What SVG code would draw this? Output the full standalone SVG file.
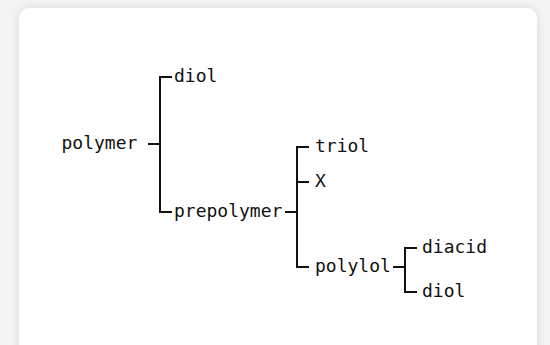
<svg xmlns="http://www.w3.org/2000/svg" width="550" height="345" viewBox="0 0 550 345">
<style>
.t{font-family:"DejaVu Sans Mono","Liberation Mono",monospace;font-size:18px;fill:#111}
.c{fill:none;stroke:#111;stroke-width:2;stroke-linecap:butt;stroke-linejoin:miter}
</style>
<defs>
<filter id="sh" x="-10%" y="-10%" width="120%" height="130%">
<feGaussianBlur in="SourceAlpha" stdDeviation="5"/>
<feComponentTransfer><feFuncA type="linear" slope="0.12"/></feComponentTransfer>
<feMerge><feMergeNode/><feMergeNode in="SourceGraphic"/></feMerge>
</filter>
</defs>
<rect x="0" y="0" width="550" height="345" fill="#f4f4f4"/>
<rect x="19" y="8" width="518" height="360" rx="11" fill="#ffffff" filter="url(#sh)"/>
<g id="connectors">
<path class="c" d="M148,144 H160"/>
<path class="c" d="M172,77 H160 V212 H172"/>
<path class="c" d="M285,212 H297"/>
<path class="c" d="M309,147 H297 V267 H309"/>
<path class="c" d="M297,182 H309"/>
<path class="c" d="M393,267 H405"/>
<path class="c" d="M417,248 H405 V292 H417"/>
</g>
<g id="n-polymer"><text class="t" x="61.5" y="149">polymer</text></g>
<g id="n-diol1"><text class="t" x="174" y="82">diol</text></g>
<g id="n-prepolymer"><text class="t" x="174" y="217">prepolymer</text></g>
<g id="n-triol"><text class="t" x="315" y="152">triol</text></g>
<g id="n-x"><text class="t" x="315" y="187">X</text></g>
<g id="n-polylol"><text class="t" x="315" y="272">polylol</text></g>
<g id="n-diacid"><text class="t" x="422" y="253">diacid</text></g>
<g id="n-diol2"><text class="t" x="422" y="297">diol</text></g>
</svg>
